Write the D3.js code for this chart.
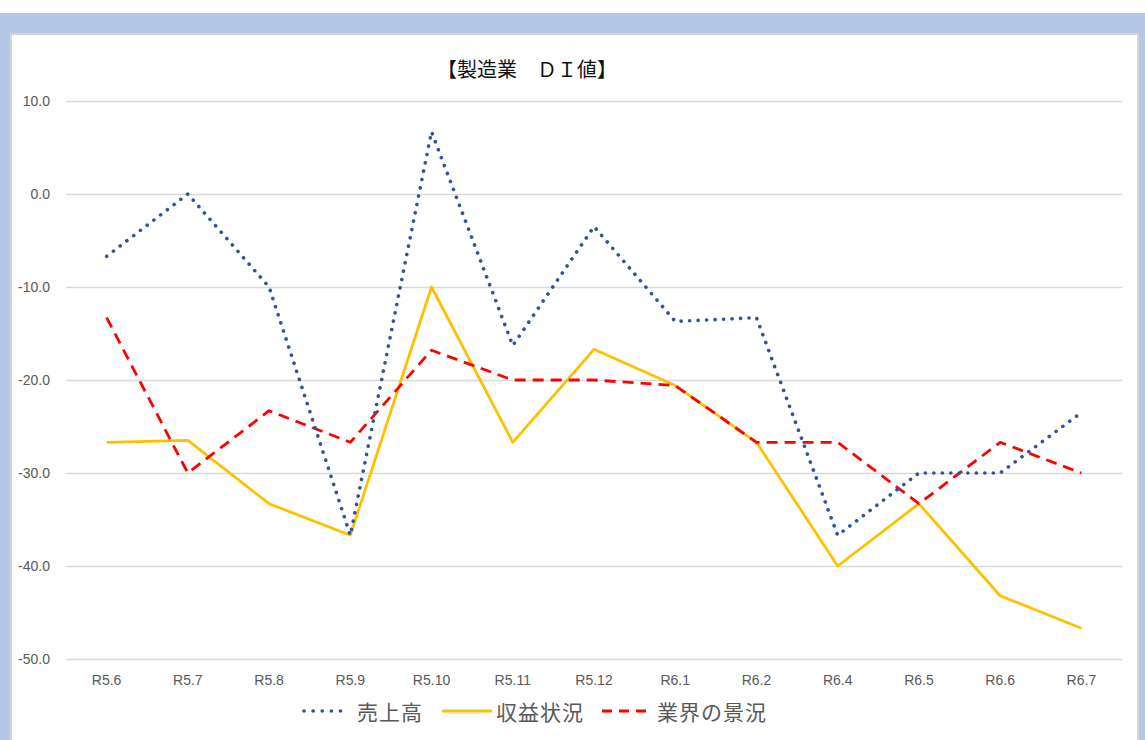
<!DOCTYPE html>
<html><head><meta charset="utf-8">
<script src="https://cdn.jsdelivr.net/npm/d3@7"></script>
<style>
html,body{margin:0;padding:0;background:#fff;}
svg{display:block;}
text{font-family:"Noto Sans CJK JP","Noto Sans",sans-serif;}
</style></head>
<body>
<svg id="chart" width="1145" height="740"></svg>
<script>
const categories = ["R5.6","R5.7","R5.8","R5.9","R5.10","R5.11","R5.12","R6.1","R6.2","R6.4","R6.5","R6.6","R6.7"];
const seriesNames = ["売上高","収益状況","業界の景況"];
const sales      = [-6.7, 0.0, -10.0, -36.7, 6.7, -16.3, -3.5, -13.7, -13.3, -36.7, -30.0, -30.0, -23.5];
const profit     = [-26.7, -26.5, -33.3, -36.7, -10.0, -26.7, -16.7, -20.6, -26.7, -40.0, -33.3, -43.2, -46.7];
const industry   = [-13.3, -30.0, -23.3, -26.7, -16.8, -20.0, -20.0, -20.6, -26.7, -26.7, -33.3, -26.7, -30.0];
const yTicks = [10, 0, -10, -20, -30, -40, -50];
const titleText = "【製造業　ＤＩ値】";

const svg = d3.select("#chart");
const W = 1145, H = 740;

// background frame
svg.append("rect").attr("x",0).attr("y",0).attr("width",W).attr("height",H).attr("fill","#fff");
svg.append("rect").attr("x",0).attr("y",13).attr("width",W).attr("height",H-13).attr("fill","#b4c7e7");
svg.append("rect").attr("x",11).attr("y",34).attr("width",1127).attr("height",H).attr("fill","#fff")
  .attr("stroke","#d6d6d6").attr("stroke-width",2);

const plot = {left:66, right:1122, top:101, bottom:659};

const x = d3.scaleBand().domain(categories).range([plot.left, plot.right]);
const y = d3.scaleLinear().domain([d3.min(yTicks), d3.max(yTicks)]).range([plot.bottom, plot.top]);

// y axis + gridlines
const yAxis = svg.append("g").attr("transform",`translate(${plot.left},0)`)
  .call(d3.axisLeft(y).tickValues(yTicks).tickFormat(d => d.toFixed(1))
        .tickSize(-(plot.right-plot.left)).tickPadding(16));
yAxis.select(".domain").remove();
yAxis.selectAll(".tick line").attr("stroke","#d9d9d9").attr("stroke-width",1.3);
yAxis.selectAll(".tick text").attr("fill","#595959").style("font-size","14px")
  .style("font-family","'Liberation Sans','Noto Sans',sans-serif");

// x axis
const xAxis = svg.append("g").attr("transform",`translate(0,${plot.bottom})`)
  .call(d3.axisBottom(x).tickSize(0).tickPadding(16));
xAxis.select(".domain").remove();
xAxis.selectAll(".tick text").attr("fill","#595959").style("font-size","14px")
  .style("font-family","'Liberation Sans','Noto Sans',sans-serif");

// series
const styles = [
  {data:sales, color:"#2f5597", width:3.6, dash:"0.1,8.4", cap:"round"},
  {data:profit, color:"#ffc000", width:2.8, dash:null, cap:"butt"},
  {data:industry, color:"#ff0000", width:2.8, dash:"11,7", cap:"butt"}
];
const line = d3.line().x((d,i) => x(categories[i]) + x.bandwidth()/2).y(d => y(d));

[1,2,0].forEach(k => {
  const s = styles[k];
  svg.append("path").datum(s.data).attr("d", line)
    .attr("fill","none").attr("stroke", s.color).attr("stroke-width", s.width)
    .attr("stroke-linecap", s.cap).attr("stroke-linejoin","round")
    .attr("stroke-dasharray", s.dash);
});

// title
svg.append("text").attr("x",527).attr("y",68).attr("text-anchor","middle")
  .attr("dominant-baseline","central").attr("fill","#111").style("font-size","20px")
  .text(titleText);

// legend
const legendY = 711;
const legendItems = [
  {sx:303, tx:357},
  {sx:442, tx:496},
  {sx:602, tx:657}
];
const legend = svg.append("g");
seriesNames.forEach((name,i) => {
  const s = styles[i], p = legendItems[i];
  legend.append("line").attr("x1",p.sx + (i===0?1:0)).attr("x2",p.sx+(i===0?46:50)).attr("y1",legendY).attr("y2",legendY)
    .attr("stroke",s.color).attr("stroke-width",s.width).attr("stroke-linecap",s.cap)
    .attr("stroke-dasharray", i===0 ? "0.1,9" : (i===2 ? "10,7" : null));
  legend.append("text").attr("x",p.tx).attr("y",legendY).attr("dominant-baseline","central")
    .attr("fill","#595959").style("font-size","21px").style("letter-spacing","1px").text(name);
});
</script>
</body></html>
